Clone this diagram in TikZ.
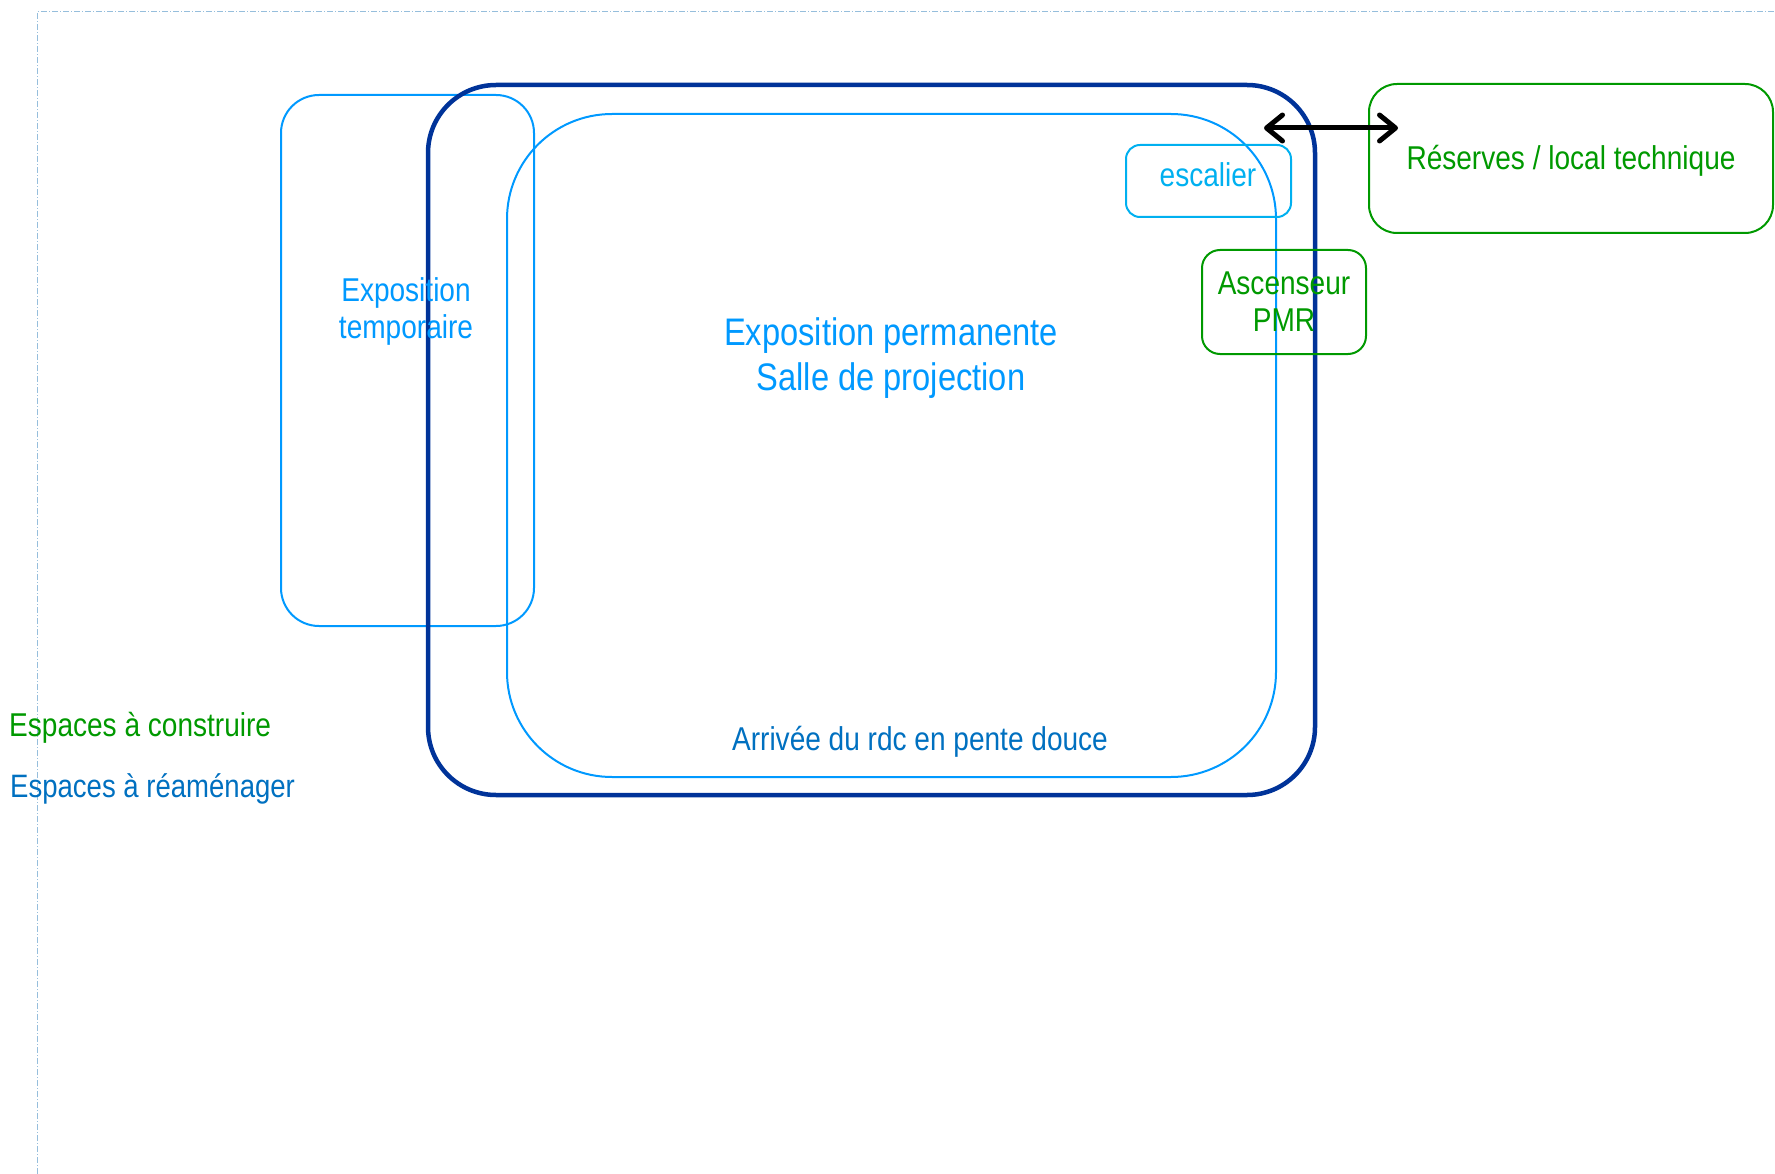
\documentclass[tikz,border=0pt]{standalone}
\usepackage{fontspec}
\setmainfont{Liberation Sans}[FakeStretch=0.85]
\usetikzlibrary{arrows.meta}
\definecolor{skyblue}{RGB}{0, 153, 255}
\definecolor{cyanblue}{RGB}{0, 176, 240}
\definecolor{navyblue}{RGB}{0, 51, 153}
\definecolor{oceanblue}{RGB}{0, 112, 192}
\definecolor{leafgreen}{RGB}{0, 153, 0}
\definecolor{framegray}{RGB}{150, 190, 220}
\tikzset{
  zone/.style={draw, inner sep=0pt, line width=2pt},
  label/.style={inner sep=0pt, align=center, font=\fontsize{33}{37}\selectfont},
}

\begin{document}
\begin{tikzpicture}[x=1pt, y=-1pt]
            \useasboundingbox                                                       (0, 0) rectangle (1775, 1174);
            \draw[framegray, line width=1pt, dash pattern=on 6pt off 2pt on 1pt off 2pt] (37, 1174) -- (37, 12) -- (1775, 12);
            \node[zone, skyblue,  rounded corners=38,  minimum width=253, minimum height=531] (temp)    at ( 407.5, 360.5) {};
            \node[zone, navyblue, rounded corners=68,  minimum width=887, minimum height=710, line width=4.5pt] (batiment) at ( 871.5, 440.0) {};
            \node[zone, skyblue,  rounded corners=105, minimum width=769, minimum height=663] (perm)    at ( 891.5, 445.5) {};
            \node[zone, cyanblue, rounded corners=14,  minimum width=165, minimum height=72]  (escalier) at (1208.5, 181.0) {};
            \node[zone, leafgreen, rounded corners=18, minimum width=164, minimum height=104] (ascenseur) at (1284.0, 302.0) {};
            \node[zone, leafgreen, rounded corners=28, minimum width=404, minimum height=149] (reserves) at (1571.0, 158.5) {};
            \node[label, skyblue]                                       (tempTxt)  at ( 406, 311) {Exposition\\temporaire};
            \node[label, skyblue, font=\fontsize{38.4}{45}\selectfont]   (permTxt)  at ( 891, 358) {Exposition permanente\\Salle de projection};
            \node[label, cyanblue]                                      (escTxt)   at (1208, 175) {escalier};
            \node[label, leafgreen]                                     (ascTxt)   at (1284, 301.5) {Ascenseur\\PMR};
            \node[label, leafgreen]                                     (resTxt)   at (1571, 160.5) {Réserves / local technique};
            \node[label, oceanblue]                                     (arrTxt)   at ( 920, 741.5) {Arrivée du rdc en pente douce};
            \node[label, leafgreen, anchor=west]                        (legNew)   at (   9, 727.5) {Espaces à construire};
            \node[label, oceanblue, anchor=west, font=\fontsize{32.4}{37}\selectfont] (legOld) at (10, 789) {Espaces à réaménager};
            \coordinate (accesA) at (1264, 128);
            \coordinate (accesB) at (1398, 128);
            \draw[line width=5pt, line cap=round, {Straight Barb[length=16pt, width=26pt, round]}-{Straight Barb[length=16pt, width=26pt, round]}] (accesA) -- (accesB);
\end{tikzpicture}
\end{document}
